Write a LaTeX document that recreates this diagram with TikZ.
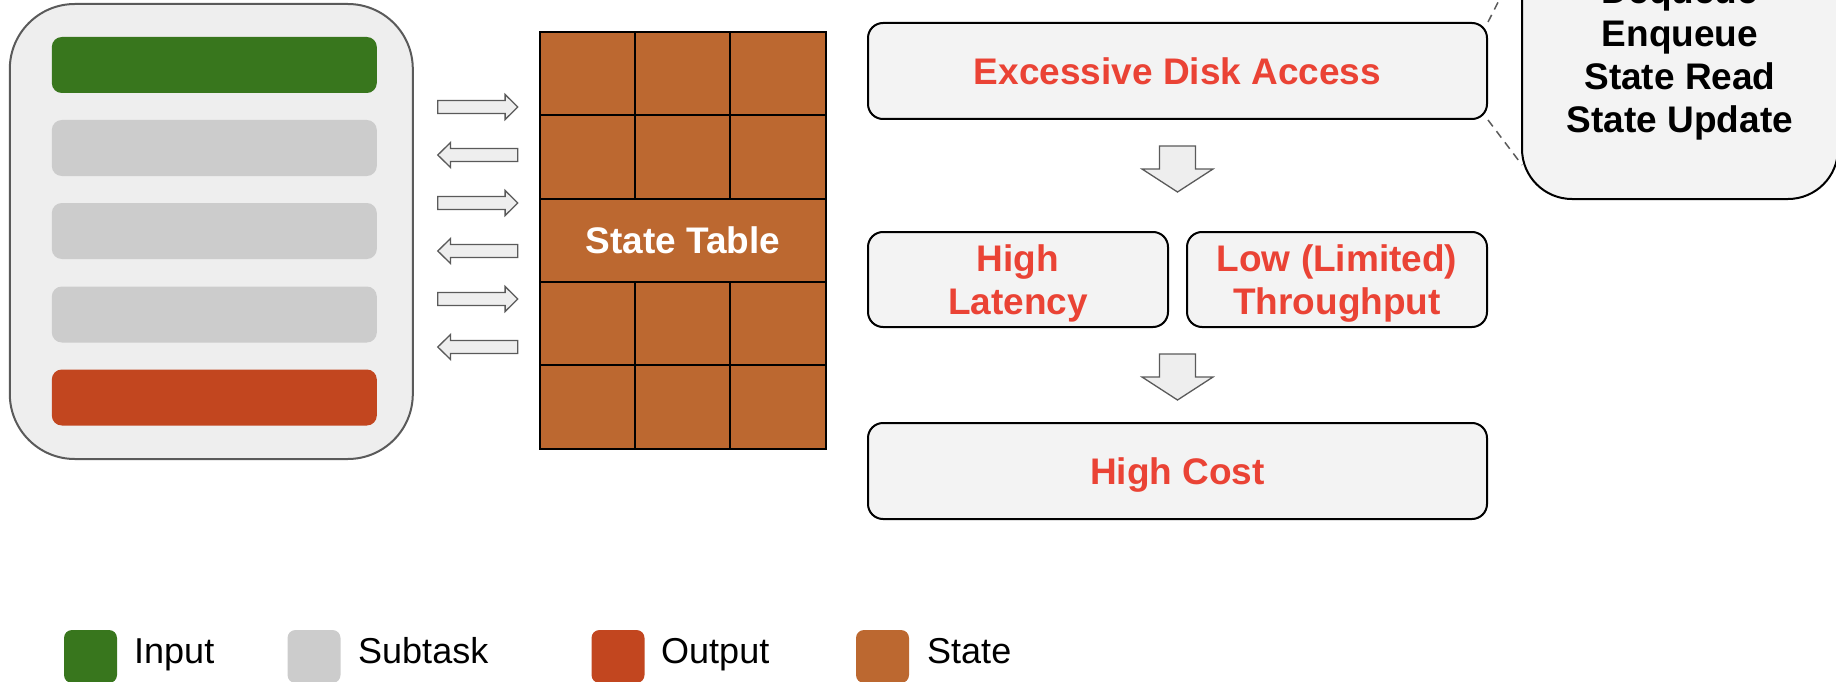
\documentclass[tikz,border=0pt]{standalone}
\usepackage{fontspec}
\setmainfont{Liberation Sans}
\definecolor{inputgreen}{HTML}{38761D}
\definecolor{subgray}{HTML}{CCCCCC}
\definecolor{outred}{HTML}{C2461F}
\definecolor{statebrown}{HTML}{BC6830}
\definecolor{panelgray}{HTML}{EEEEEE}
\definecolor{boxgray}{HTML}{F3F3F3}
\definecolor{edgegray}{HTML}{5A5A5A}
\definecolor{alertred}{HTML}{EA4335}
\tikzset{
  bigfont/.style={font=\fontsize{37}{43}\selectfont\bfseries},
  legfont/.style={font=\fontsize{36}{43}\selectfont},
  panel/.style={draw=edgegray, line width=2pt, fill=panelgray, rounded corners=65pt,
    minimum width=403pt, minimum height=455pt, inner sep=0pt},
  bar/.style={rounded corners=10pt, minimum width=325pt, minimum height=56pt, inner sep=0pt},
  issuebox/.style={draw=black, line width=2pt, fill=boxgray, rounded corners=15pt,
    minimum height=96pt, inner sep=0pt},
  issuetext/.style={bigfont, text=alertred, anchor=base, inner sep=0pt},
  opstext/.style={bigfont, text=black, anchor=base, inner sep=0pt},
  blockarrow/.style={fill=panelgray, draw=edgegray, line width=1.3pt, line join=miter},
  swatch/.style={rounded corners=8pt, minimum width=53pt, minimum height=53pt, inner sep=0pt},
  legtext/.style={legfont, anchor=base west, inner sep=0pt},
  gridline/.style={draw=black, line width=2pt},
  callout/.style={draw=edgegray, line width=1.5pt, dash pattern=on 8pt off 6pt},
  % horizontal block arrows beside the state table
  rightarr/.pic={\path[blockarrow] (-40,-6.5) -- (27.3,-6.5) -- (27.3,-12.5) -- (40,0)
      -- (27.3,12.5) -- (27.3,6.5) -- (-40,6.5) -- cycle;},
  leftarr/.pic={\path[blockarrow] (40,-6.5) -- (-27.3,-6.5) -- (-27.3,-12.5) -- (-40,0)
      -- (-27.3,12.5) -- (-27.3,6.5) -- (40,6.5) -- cycle;},
  % vertical block arrow between the issue boxes
  downarr/.pic={\path[blockarrow] (-18,0) -- (18,0) -- (18,23) -- (35.5,23) -- (0,46)
      -- (-35.5,23) -- (-18,23) -- cycle;}
}
\begin{document}
\begin{tikzpicture}[x=1pt, y=-1pt]
\useasboundingbox (0,0) rectangle (1836,682);
\clip (0,0) rectangle (1836,682);

% task panel with its stages
\node[panel] (task) at (211.3,231.5) {};
\node[bar, fill=inputgreen] (stin) at (214.3,65) {};
\node[bar, fill=subgray] (st1) at (214.3,148) {};
\node[bar, fill=subgray] (st2) at (214.3,231) {};
\node[bar, fill=subgray] (st3) at (214.3,314.5) {};
\node[bar, fill=outred] (stout) at (214.3,397.5) {};

% reads and writes against the state table
\pic at (477.8,107) {rightarr};
\pic at (477.8,155) {leftarr};
\pic at (477.8,203) {rightarr};
\pic at (477.8,251) {leftarr};
\pic at (477.8,299) {rightarr};
\pic at (477.8,347) {leftarr};

% state table grid
\node[fill=statebrown, minimum width=286pt, minimum height=417pt, inner sep=0pt]
  (table) at (683,240.5) {};
\draw[gridline] (540,32) rectangle (826,449);
\draw[gridline] (540,115) -- (826,115);
\draw[gridline] (540,199) -- (826,199);
\draw[gridline] (540,282) -- (826,282);
\draw[gridline] (540,365) -- (826,365);
\draw[gridline] (635,32) -- (635,199);
\draw[gridline] (730,32) -- (730,199);
\draw[gridline] (635,282) -- (635,449);
\draw[gridline] (730,282) -- (730,449);
\node[bigfont, text=white, anchor=base, inner sep=0pt] (tablelabel) at (683,253) {State Table};

% consequences
\node[issuebox, minimum width=619pt] (disk) at (1177.5,71) {};
\node[issuetext] (disklabel) at (1177.5,85) {Excessive Disk Access};
\pic at (1177.5,146) {downarr};
\node[issuebox, minimum width=300pt, minimum height=95pt] (lat) at (1018,279.5) {};
\node[issuetext] (lat1) at (1018,271) {High};
\node[issuetext] (lat2) at (1018,314) {Latency};
\node[issuebox, minimum width=300pt, minimum height=95pt] (thr) at (1337,279.5) {};
\node[issuetext] (thr1) at (1337,271) {Low (Limited)};
\node[issuetext] (thr2) at (1337,314) {Throughput};
\pic at (1177.5,354) {downarr};
\node[issuebox, minimum width=619pt] (cost) at (1177.5,471) {};
\node[issuetext] (costlabel) at (1177.5,484) {High Cost};

% operations behind the disk access
\node[draw=black, line width=2pt, fill=boxgray, rounded corners=50pt, minimum width=316pt,
  minimum height=349pt, inner sep=0pt] (ops) at (1680,24.5) {};
\node[opstext] (op1) at (1680,4) {Dequeue};
\node[opstext] (op2) at (1680,47) {Enqueue};
\node[opstext] (op3) at (1680,90) {State Read};
\node[opstext] (op4) at (1680,133) {State Update};
\coordinate (opstop) at (1522,-45);
\coordinate (opsbot) at (1522,165);
\draw[callout] (disk.north east) -- (opstop);
\draw[callout] (disk.south east) -- (opsbot);

% legend
\node[swatch, fill=inputgreen] (kin) at (90.5,656.5) {};
\node[legtext] (kinl) at (134,663) {Input};
\node[swatch, fill=subgray] (ksub) at (314,656.5) {};
\node[legtext] (ksubl) at (358,663) {Subtask};
\node[swatch, fill=outred] (kout) at (618,656.5) {};
\node[legtext] (koutl) at (661,663) {Output};
\node[swatch, fill=statebrown] (kst) at (882.5,656.5) {};
\node[legtext] (kstl) at (927,663) {State};
\end{tikzpicture}
\end{document}
